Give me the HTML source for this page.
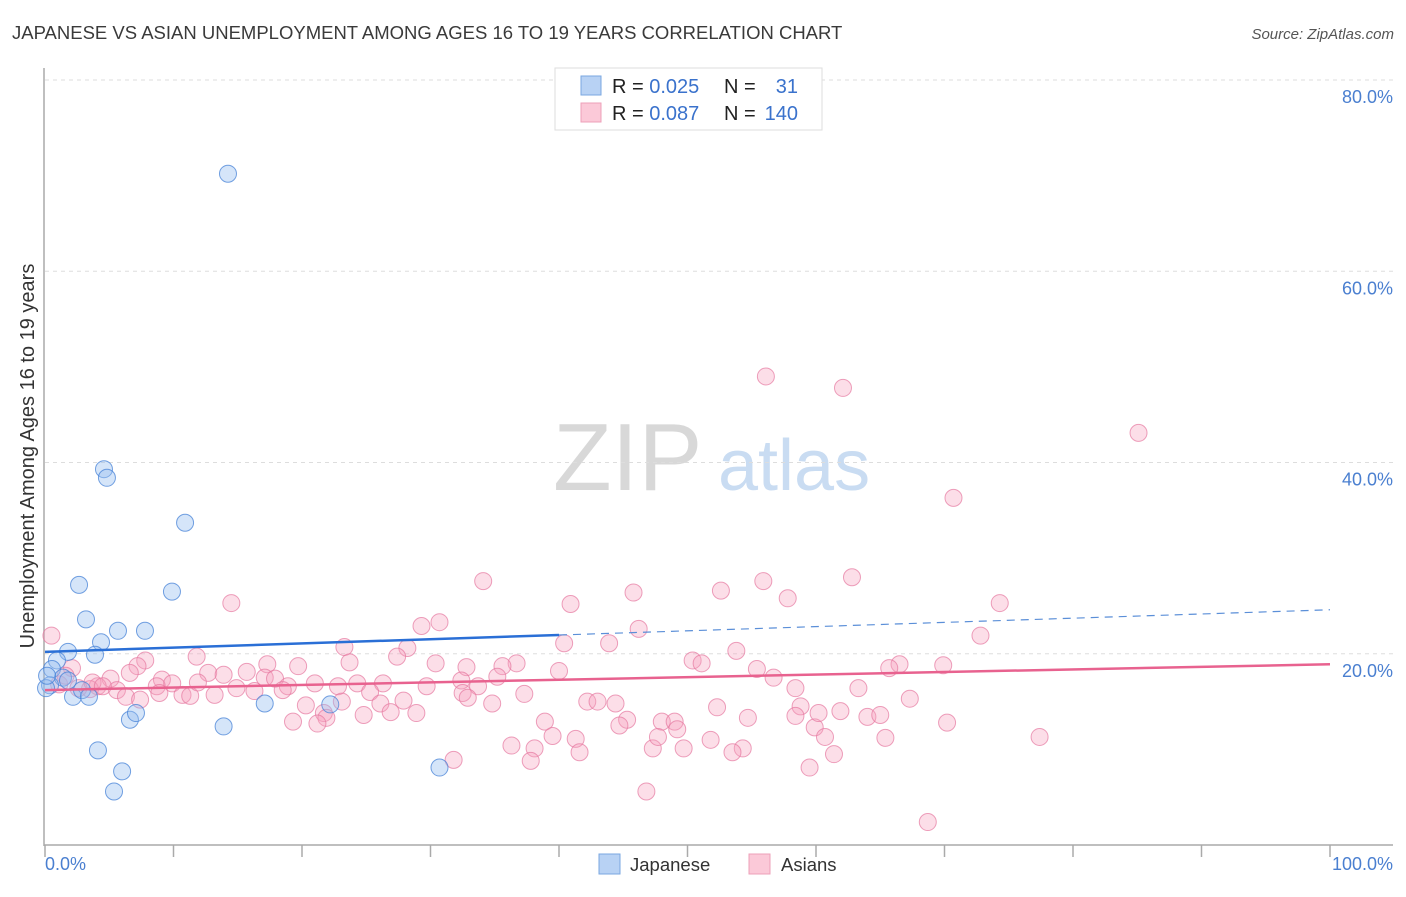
<!DOCTYPE html>
<html><head><meta charset="utf-8"><style>
body{margin:0;background:#fff;font-family:"Liberation Sans",sans-serif}
svg text{font-family:"Liberation Sans",sans-serif}
</style></head><body>
<svg id="chart" width="1406" height="892" xmlns="http://www.w3.org/2000/svg">
<text x="12" y="39" font-size="18.5" fill="#3a3a3a">JAPANESE VS ASIAN UNEMPLOYMENT AMONG AGES 16 TO 19 YEARS CORRELATION CHART</text>
<text x="1394" y="39" font-size="15" fill="#555" text-anchor="end" font-style="italic">Source: ZipAtlas.com</text>
<g>
<text x="553" y="490" font-size="96" fill="#d8d8d8" font-family="Liberation Serif, serif">ZIP</text>
<text x="718" y="490" font-size="72" fill="#c9dcf2">atlas</text>
</g>
<g id="grid"></g>
<g id="axes"></g>
<g id="pts"></g>
<g id="trends"></g>
<text transform="translate(34,456) rotate(-90)" font-size="20" fill="#333" text-anchor="middle">Unemployment Among Ages 16 to 19 years</text>
<text x="45" y="870" font-size="18" fill="#4a7fd0">0.0%</text>
<text x="1393" y="870" font-size="18" fill="#4a7fd0" text-anchor="end">100.0%</text>
<g>
<rect x="555" y="68" width="267" height="62" fill="#fff" stroke="#ddd"/>
<rect x="581" y="76" width="20" height="19" fill="#b8d2f4" stroke="#7aa7e0"/>
<rect x="581" y="103" width="20" height="19" fill="#fbc9d8" stroke="#eea0b9"/>
<text x="612" y="93" font-size="20" fill="#222">R = <tspan fill="#3a72cc">0.025</tspan></text>
<text x="724" y="93" font-size="20" fill="#222">N = </text><text x="798" y="93" font-size="20" fill="#3a72cc" text-anchor="end">31</text>
<text x="612" y="120" font-size="20" fill="#222">R = <tspan fill="#3a72cc">0.087</tspan></text>
<text x="724" y="120" font-size="20" fill="#222">N = </text><text x="798" y="120" font-size="20" fill="#3a72cc" text-anchor="end">140</text>
</g>
<g>
<rect x="599" y="854" width="21" height="20" fill="#b8d2f4" stroke="#7aa7e0"/>
<text x="630" y="871" font-size="18.5" fill="#333">Japanese</text></g>
<g>
<rect x="749" y="854" width="21" height="20" fill="#fbc9d8" stroke="#eea0b9"/>
<text x="781" y="871" font-size="18.5" fill="#333">Asians</text></g>
</svg>
<script>
const yTicks=[20,40,60,80];
const yTickLabels=["20.0%","40.0%","60.0%","80.0%"];
const xTicks=[0,10,20,30,40,50,60,70,80,90,100];
const japX=[14.24,4.59,4.82,10.9,2.65,9.88,3.19,5.68,7.78,4.36,1.79,3.89,0.93,0.54,1.4,1.79,0.39,0.08,2.18,2.88,3.42,6.61,7.08,13.9,17.1,22.2,4.12,6.0,5.37,30.7,0.16];
const japY=[70.2,39.3,38.4,33.7,27.2,26.5,23.6,22.4,22.4,21.2,20.2,19.9,19.3,18.4,17.5,17.2,16.7,16.4,15.5,16.2,15.5,13.1,13.8,12.4,14.8,14.7,9.9,7.7,5.6,8.1,17.7];
const asiX=[56.1,62.1,85.1,70.7,62.8,55.9,34.1,52.6,45.8,57.8,14.5,40.9,74.3,30.7,29.3,46.2,72.8,0.5,40.4,43.9,23.3,28.2,53.8,27.4,11.8,7.8,50.4,51.1,69.9,66.5,65.7,17.3,19.7,23.7,30.4,32.8,36.7,35.6,40.0,55.4,7.2,2.1,6.6,9.1,5.1,12.7,13.9,15.7,17.1,17.9,18.9,21.0,22.8,24.3,26.3,25.3,29.7,32.4,35.2,33.7,32.5,37.3,34.8,27.9,26.1,8.7,9.9,10.7,11.3,13.2,14.9,16.3,4.1,3.5,5.6,2.6,6.3,1.1,20.3,21.7,21.9,19.3,21.2,24.8,26.9,28.9,42.2,43.0,44.4,45.3,44.7,38.9,39.5,41.3,41.6,38.1,37.8,36.3,31.8,47.3,48.0,49.0,49.2,47.7,49.7,51.8,52.3,54.7,54.3,53.5,46.8,56.7,58.4,58.8,58.4,59.9,60.7,60.2,61.9,61.4,59.5,63.3,64.0,65.0,65.4,67.3,70.2,68.7,77.4,7.4,1.6,3.7,4.5,8.9,11.9,18.5,23.1,32.9];
const asiY=[49.0,47.8,43.1,36.3,28.0,27.6,27.6,26.6,26.4,25.8,25.3,25.2,25.3,23.3,22.9,22.6,21.9,21.9,21.1,21.1,20.7,20.6,20.3,19.7,19.7,19.3,19.3,19.0,18.8,18.9,18.5,18.9,18.7,19.1,19.0,18.6,19.0,18.7,18.2,18.4,18.7,18.5,18.0,17.3,17.4,18.0,17.8,18.1,17.5,17.4,16.6,16.9,16.6,16.9,16.9,16.0,16.6,17.2,17.6,16.6,15.9,15.8,14.8,15.1,14.8,16.6,16.9,15.7,15.6,15.7,16.4,16.1,16.6,16.3,16.2,16.4,15.5,16.8,14.6,13.8,13.3,12.9,12.7,13.6,13.9,13.8,15.0,15.0,14.8,13.1,12.5,12.9,11.4,11.1,9.7,10.1,8.8,10.4,8.9,10.1,12.9,12.9,12.1,11.3,10.1,11.0,14.4,13.3,10.1,9.7,5.6,17.5,16.4,14.5,13.5,12.3,11.3,13.8,14.0,9.5,8.1,16.4,13.4,13.6,11.2,15.3,12.8,2.4,11.3,15.2,17.7,17.0,16.6,15.9,17.0,16.2,15.0,15.4];
const japTrend=[20.2,24.6];
const asiTrend=[16.2,18.9];
const japSolidEnd=40;
const NS="http://www.w3.org/2000/svg";
const X=v=>45+v*12.85, Y=v=>845-v*9.5625;
function mk(p,t,a){const e=document.createElementNS(NS,t);for(const k in a)e.setAttribute(k,a[k]);p.appendChild(e);return e;}
const grid=document.getElementById('grid'),axes=document.getElementById('axes'),svg=document.getElementById('chart');
yTicks.forEach((t,i)=>{
 const l=mk(grid,'line',{x1:45,x2:1393,y1:Y(t),y2:Y(t),stroke:'#ddd','stroke-dasharray':'4,4'});
 
 
 const tx=mk(svg,'text',{x:1393,y:Y(t)+23,'font-size':18,fill:'#4a7fd0','text-anchor':'end'});
 tx.textContent=yTickLabels[i];
 
 
});
mk(axes,'line',{x1:44,x2:44,y1:68,y2:846,stroke:'#aaa','stroke-width':1.5});
mk(axes,'line',{x1:44,x2:1393,y1:845,y2:845,stroke:'#aaa','stroke-width':1.5});
xTicks.forEach(t=>{const l=mk(axes,'line',{x1:X(t),x2:X(t),y1:845,y2:857,stroke:'#aaa','stroke-width':1.5});
 
 });
const pts=document.getElementById('pts');
asiX.forEach((x,i)=>{const c=mk(pts,'circle',{cx:X(x),cy:Y(asiY[i]),r:8.5,fill:'rgba(246,160,190,0.35)',stroke:'rgba(230,120,160,0.7)','stroke-width':1});
 
 });
japX.forEach((x,i)=>{const c=mk(pts,'circle',{cx:X(x),cy:Y(japY[i]),r:8.5,fill:'rgba(150,190,240,0.4)',stroke:'rgba(70,130,215,0.75)','stroke-width':1});
 
 });
const tr=document.getElementById('trends');
const jy=v=>japTrend[0]+(japTrend[1]-japTrend[0])*v/100;
let a=mk(tr,'line',{x1:X(0),y1:Y(jy(0)),x2:X(japSolidEnd),y2:Y(jy(japSolidEnd)),stroke:'#2a6fd6','stroke-width':2.5});


a=mk(tr,'line',{x1:X(japSolidEnd),y1:Y(jy(japSolidEnd)),x2:X(100),y2:Y(jy(100)),stroke:'#5b8fd8','stroke-width':1.2,'stroke-dasharray':'8,6'});


a=mk(tr,'line',{x1:X(0),y1:Y(asiTrend[0]),x2:X(100),y2:Y(asiTrend[1]),stroke:'#e8628f','stroke-width':2.5});


</script>
</body></html>
